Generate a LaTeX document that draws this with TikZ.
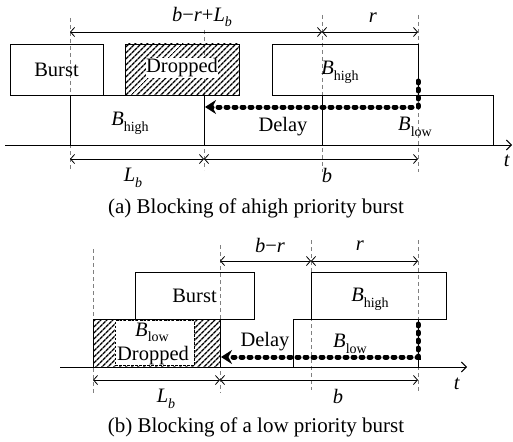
\documentclass[tikz,border=0pt]{standalone}
\usepackage{fontspec}
\setmainfont{Liberation Serif}
\usetikzlibrary{arrows.meta,patterns.meta}
\newcommand{\Bsub}[1]{\textit{B}\raisebox{-0.28em}{\fontsize{14}{14}\selectfont #1}}
\newcommand{\Lb}{\textit{L}\raisebox{-0.28em}{\fontsize{14}{14}\selectfont\textit{b}}}
\tikzset{
  box/.style={draw, line width=0.9pt, inner sep=0pt, font=\fontsize{20.5}{24}\selectfont},
  hatch/.style={box, pattern={Lines[angle=45,distance=4pt,line width=1.5pt]}},
  guide/.style={draw=gray, line width=0.8pt, dash pattern=on 4pt off 3pt},
  dim/.style={line width=0.8pt, {Straight Barb[length=4pt,width=9pt]}-{Straight Barb[length=4pt,width=9pt]}},
  delayline/.style={line width=5pt, line cap=round, dash pattern=on 2pt off 6pt, -{Stealth[length=11pt,width=14pt]}},
  lbl/.style={inner sep=0pt, font=\fontsize{20.5}{24}\selectfont},
  axis/.style={line width=0.9pt, -{Straight Barb[length=5pt,width=10pt]}},
  caption/.style={inner sep=0pt, font=\fontsize{21}{25}\selectfont}
}
\begin{document}
\begin{tikzpicture}[x=1pt,y=-1pt]
\useasboundingbox (0,0) rectangle (513,441);
% ================= (a) =================
\coordinate (ag1t) at (70,18);  \coordinate (ag1b) at (70,170);
\coordinate (ag2t) at (204,30); \coordinate (ag2b) at (204,170);
\coordinate (ag3t) at (322,15); \coordinate (ag3b) at (322,172);
\coordinate (ag4t) at (418,15); \coordinate (ag4b) at (418,172);
\draw[guide] (ag1t) -- (ag1b);
\draw[guide] (ag2t) -- (ag2b);
\draw[guide] (ag3t) -- (ag3b);
\draw[guide] (ag4t) -- (ag4b);
% dimension lines
\coordinate (adt1) at (70,32); \coordinate (adt2) at (322,32); \coordinate (adt3) at (418,32);
\draw[dim] (adt1) -- (adt2);
\draw[dim] (adt2) -- (adt3);
\coordinate (adb1) at (70,159); \coordinate (adb2) at (204,159); \coordinate (adb3) at (418,159);
\draw[dim] (adb1) -- (adb2);
\draw[dim] (adb2) -- (adb3);
% boxes
\node[box, minimum width=93pt, minimum height=51pt] (aburst) at (56.5,69.5) {Burst};
\node[hatch, minimum width=114pt, minimum height=51pt] (adrop) at (182,69.5) {};
\node[lbl, fill=white, inner sep=0.5pt] (adroptxt) at (182,68) {Dropped};
\node[box, minimum width=134pt, minimum height=50pt] (ahighlow) at (137,120) {};
\node[box, minimum width=146pt, minimum height=51pt] (ahighup) at (345,69.5) {};
\node[box, minimum width=171pt, minimum height=50pt] (alow) at (407.5,120) {};
\draw[line width=1.8pt] (ahighlow.north east) -- (ahighlow.south east);
% axis
\coordinate (aax1) at (5,145); \coordinate (aax2) at (512,145);
\draw[axis] (aax1) -- (aax2);
% delay arrow
\coordinate (ad1) at (418,81); \coordinate (ad2) at (418,107); \coordinate (ad3) at (205,107);
\draw[delayline] (ad1) -- (ad2) -- (ad3);
% labels
\node[lbl] (al1) at (130,123) {\Bsub{high}};
\node[lbl] (al2) at (340,72) {\Bsub{high}};
\node[lbl] (al3) at (283,127) {Delay};
\node[lbl] (al4) at (415,127) {\Bsub{low}};
\node[lbl] (al5) at (202,17) {\textit{b}−\textit{r}+\Lb};
\node[lbl] (al6) at (373,18) {\textit{r}};
\node[lbl] (al7) at (133,178) {\Lb};
\node[lbl] (al8) at (327,175) {\textit{b}};
\node[lbl] (al9) at (507,161) {\textit{t}};
\node[caption] (acap) at (256,208) {(a) Blocking of ahigh priority burst};
% ================= (b) =================
\coordinate (bg1t) at (93,249);  \coordinate (bg1b) at (93,393);
\coordinate (bg2t) at (220,245); \coordinate (bg2b) at (220,393);
\coordinate (bg3t) at (311,240); \coordinate (bg3b) at (311,390);
\coordinate (bg4t) at (418,240); \coordinate (bg4b) at (418,392);
\draw[guide] (bg1t) -- (bg1b);
\draw[guide] (bg2t) -- (bg2b);
\draw[guide] (bg3t) -- (bg3b);
\draw[guide] (bg4t) -- (bg4b);
\coordinate (bdt1) at (220,261); \coordinate (bdt2) at (311,261); \coordinate (bdt3) at (418,261);
\draw[dim] (bdt1) -- (bdt2);
\draw[dim] (bdt2) -- (bdt3);
\coordinate (bdb1) at (93,380); \coordinate (bdb2) at (220,380); \coordinate (bdb3) at (418,380);
\draw[dim] (bdb1) -- (bdb2);
\draw[dim] (bdb2) -- (bdb3);
\node[box, minimum width=119pt, minimum height=47pt] (bburst) at (194.5,295.5) {Burst};
\node[box, minimum width=135pt, minimum height=47pt] (bhigh) at (378.5,295.5) {};
\node[box, minimum width=125pt, minimum height=48pt] (blow) at (355.5,343) {};
\node[hatch, minimum width=127pt, minimum height=48pt] (bdrop) at (156.5,343) {};
\node[draw, fill=white, line width=0.8pt, dash pattern=on 2.5pt off 1.5pt, minimum width=79pt, minimum height=45pt, inner sep=0pt] (bdropin) at (154.5,343) {};
\draw[line width=1.8pt] (bdrop.north east) -- (bdrop.south east);
\coordinate (bax1) at (60,367); \coordinate (bax2) at (467,367);
\draw[axis] (bax1) -- (bax2);
\coordinate (bd1) at (418,324); \coordinate (bd2) at (418,357); \coordinate (bd3) at (221,357);
\draw[delayline] (bd1) -- (bd2) -- (bd3);
\node[lbl, anchor=base] (bl1) at (152,336) {\Bsub{low}};
\node[lbl, anchor=base] (bl2) at (153,360) {Dropped};
\node[lbl] (bl3) at (370,299) {\Bsub{high}};
\node[lbl] (bl4) at (350,344) {\Bsub{low}};
\node[lbl] (bl5) at (265,342) {Delay};
\node[lbl] (bl6) at (270,245) {\textit{b}−\textit{r}};
\node[lbl] (bl7) at (360,246) {\textit{r}};
\node[lbl] (bl8) at (166,399) {\Lb};
\node[lbl] (bl9) at (338,396) {\textit{b}};
\node[lbl] (bl10) at (457,384) {\textit{t}};
\node[caption] (bcap) at (256,427) {(b) Blocking of a low priority burst};
\end{tikzpicture}
\end{document}
